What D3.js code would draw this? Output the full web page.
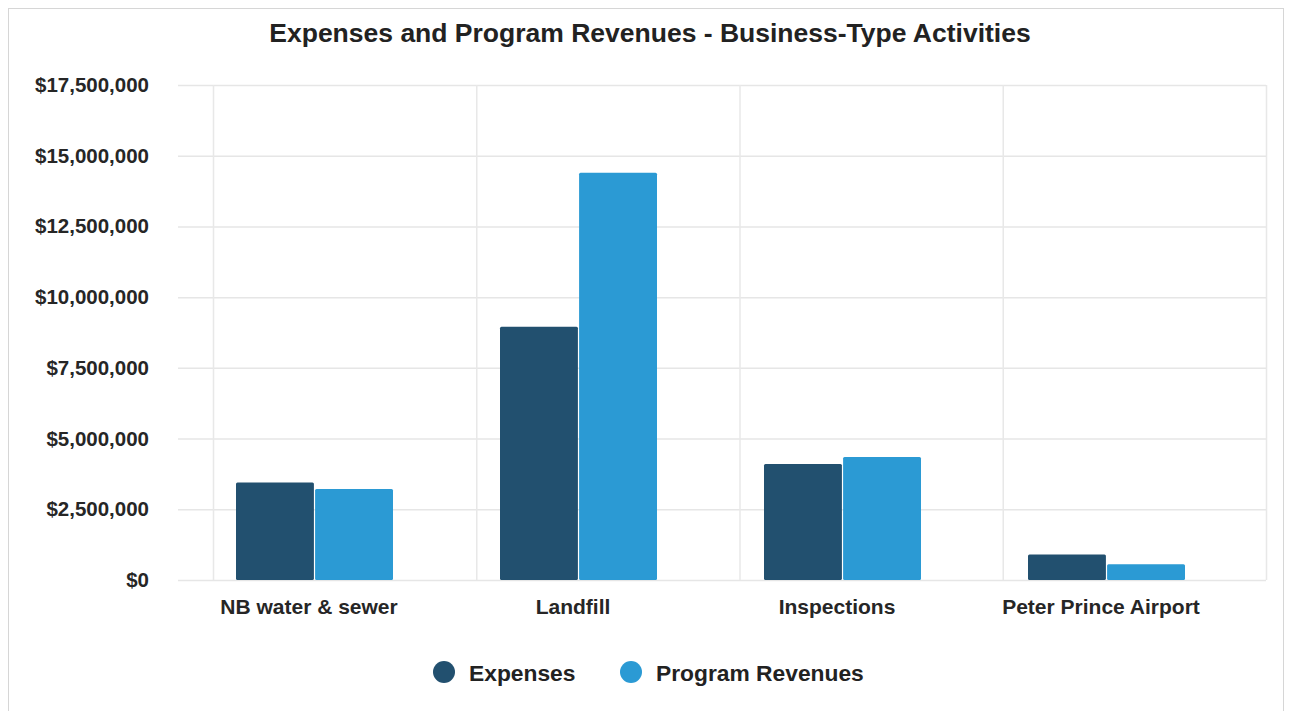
<!DOCTYPE html>
<html>
<head>
<meta charset="utf-8">
<script src="https://cdn.jsdelivr.net/npm/d3@7/dist/d3.min.js"></script>
<style>
  html, body { margin: 0; padding: 0; background: #fff; }
  svg { display: block; font-family: "Liberation Sans", Arial, sans-serif; }
</style>
</head>
<body>
<svg id="chart" width="1291" height="711"></svg>
<script>
// Business-type activities: expenses vs. program revenues
const categories = ["NB water & sewer", "Landfill", "Inspections", "Peter Prince Airport"];
const seriesNames = ["Expenses", "Program Revenues"];
const expenses = [3450000, 8950000, 4100000, 900000];
const programRevenues = [3220000, 14400000, 4350000, 560000];
const yTicks = [0, 2500000, 5000000, 7500000, 10000000, 12500000, 15000000, 17500000];
const colors = ["#22506f", "#2b9ad4"];

const svg = d3.select("#chart");

// outer frame
svg.append("rect")
  .attr("x", 8.5).attr("y", 8.5)
  .attr("width", 1275).attr("height", 710)
  .attr("fill", "#fff").attr("stroke", "#d6d6d6").attr("stroke-width", 1);

const plot = { left: 178, right: 1266, top: 85, bottom: 580 };

const y = d3.scaleLinear().domain([0, 17500000]).range([plot.bottom, plot.top]);
const x0 = d3.scaleBand().domain(categories).range([182, 1238]);
const x1 = d3.scaleBand().domain(seriesNames).range([54, 211]).paddingInner(0.015);
const gridX = d3.scaleLinear().domain([0, categories.length]).range([213, plot.right]);

// horizontal gridlines
svg.append("g").selectAll("line").data(yTicks).join("line")
  .attr("x1", plot.left).attr("x2", plot.right)
  .attr("y1", d => y(d) + 0.5).attr("y2", d => y(d) + 0.5)
  .attr("stroke", "#e6e6e6").attr("stroke-width", 1.5);

// vertical gridlines
svg.append("g").selectAll("line").data(d3.range(categories.length + 1)).join("line")
  .attr("x1", d => gridX(d) + 0.5).attr("x2", d => gridX(d) + 0.5)
  .attr("y1", plot.top).attr("y2", plot.bottom)
  .attr("stroke", "#e8e8e8").attr("stroke-width", 1.5);

// y axis labels
const yAxis = d3.axisLeft(y).tickValues(yTicks).tickSize(0).tickPadding(0)
  .tickFormat(d => "$" + d3.format(",")(d));
svg.append("g").attr("transform", "translate(149,0)").call(yAxis)
  .call(g => g.select(".domain").remove())
  .call(g => g.selectAll("text")
    .attr("font-family", "'Liberation Sans', Arial, sans-serif")
    .attr("font-size", 20.5).attr("font-weight", "bold").attr("fill", "#262626"));

// bars
const rows = categories.map((c, i) => ({ cat: c, vals: [expenses[i], programRevenues[i]] }));
const groups = svg.append("g").selectAll("g").data(rows).join("g")
  .attr("transform", d => `translate(${x0(d.cat)},0)`);
groups.selectAll("rect").data(d => d.vals.map((v, j) => ({ name: seriesNames[j], v, j })))
  .join("rect")
  .attr("x", d => x1(d.name))
  .attr("width", x1.bandwidth())
  .attr("y", d => y(d.v))
  .attr("height", d => y(0) - y(d.v))
  .attr("rx", 1.5)
  .attr("fill", d => colors[d.j]);

// category labels
const xAxis = d3.axisBottom(x0).tickSize(0).tickPadding(0);
svg.append("g").attr("transform", `translate(-5,${plot.bottom + 34})`).call(xAxis)
  .call(g => g.select(".domain").remove())
  .call(g => g.selectAll("text")
    .attr("dy", 0)
    .attr("font-family", "'Liberation Sans', Arial, sans-serif")
    .attr("font-size", 21).attr("font-weight", "bold").attr("fill", "#262626"));

// title
svg.append("text")
  .attr("x", 650).attr("y", 42)
  .attr("text-anchor", "middle")
  .attr("font-size", 26.5).attr("font-weight", "bold").attr("fill", "#222")
  .text("Expenses and Program Revenues - Business-Type Activities");

// legend
const legendItems = [
  { name: seriesNames[0], cx: 444, color: colors[0] },
  { name: seriesNames[1], cx: 631, color: colors[1] }
];
const leg = svg.append("g").selectAll("g").data(legendItems).join("g")
  .attr("transform", d => `translate(${d.cx},672)`);
leg.append("circle").attr("r", 11).attr("fill", d => d.color);
leg.append("text").attr("x", 25).attr("y", 8.5)
  .attr("font-size", 22.8).attr("font-weight", "bold").attr("fill", "#222")
  .text(d => d.name);
</script>
</body>
</html>
